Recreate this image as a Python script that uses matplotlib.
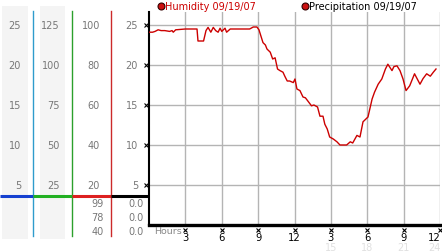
import matplotlib
matplotlib.use("Agg")
import matplotlib.pyplot as plt
from matplotlib.patches import Rectangle

# humidity trace, hours since midnight
hours = [0.0, 0.3, 0.5, 0.75, 1.0, 1.3, 1.7, 1.9, 2.0, 2.2, 3.0, 3.5, 3.96,
         4.04, 4.3, 4.5, 4.7, 4.87, 5.1, 5.3, 5.5, 5.7, 5.86, 6.0, 6.27, 6.4,
         6.7, 7.5, 8.3, 8.6, 8.9, 9.07, 9.4, 9.6, 9.73, 10.0, 10.2, 10.4, 10.6,
         10.8, 11.05, 11.2, 11.4, 11.6, 11.9, 12.04, 12.2, 12.45, 12.7, 12.9,
         13.1, 13.4, 13.6, 13.9, 14.1, 14.35, 14.5, 14.7, 14.9, 15.2, 15.5,
         15.75, 16.0, 16.3, 16.6, 16.8, 17.15, 17.4, 17.65, 18.06, 18.4, 18.6,
         18.9, 19.2, 19.5, 19.7, 20.04, 20.2, 20.45, 20.7, 20.95, 21.2, 21.5,
         21.9, 22.35, 22.6, 22.9, 23.2, 23.45, 23.67]
humidity = [24.1, 24.1, 24.2, 24.4, 24.3, 24.3, 24.2, 24.3, 24.1, 24.4, 24.5,
            24.5, 24.5, 23.0, 23.0, 23.0, 24.3, 24.7, 24.1, 24.7, 24.3, 24.1,
            24.6, 24.2, 24.6, 24.1, 24.5, 24.5, 24.5, 24.75, 24.75, 24.4, 22.8,
            22.5, 22.0, 21.6, 20.75, 20.9, 19.5, 19.3, 19.1, 18.6, 18.0, 18.0,
            17.8, 18.25, 17.0, 16.8, 16.0, 15.9, 15.5, 14.9, 15.0, 14.75, 13.6,
            13.6, 12.6, 12.0, 11.0, 10.75, 10.4, 10.0, 10.0, 10.0, 10.4, 10.25,
            11.2, 11.0, 12.9, 13.5, 15.75, 16.6, 17.6, 18.25, 19.5, 20.1, 19.3,
            19.8, 19.9, 19.3, 18.25, 16.8, 17.4, 18.9, 17.6, 18.3, 18.9, 18.6,
            19.1, 19.5]

y_ticks = [5, 10, 15, 20, 25]
scale_cols = [[5, 10, 15, 20, 25],
              [25, 50, 75, 100, 125],
              [20, 40, 60, 80, 100],
              [5, 10, 15, 20, 25]]
x_ticks = [3, 6, 9, 12, 15, 18, 21, 24]
x_labels = ['3', '6', '9', '12', '3', '6', '9', '12']
x_labels_24 = ['15', '18', '21', '24']
readings_c = ['99', '78', '40']
readings_d = ['0.0', '0.0', '0.0']

W, H = 442, 253
x0, x1 = 149, 440
y_top, y_bot = 13, 226
ppu = 8.0            # pixels per humidity unit
pph = (x1 - x0) / 24  # pixels per hour


def val(py):
    # pixel row -> value on the shared y scale
    return (y_bot - py) / ppu


fig = plt.figure(figsize=(W / 100, H / 100), dpi=100)
fig.patch.set_facecolor('white')

ymax = val(y_top)
ax = fig.add_axes([x0 / W, 1 - y_bot / H, (x1 - x0) / W, (y_bot - y_top) / H])
ax.set_xlim(0, 24)
ax.set_ylim(0, ymax)
ax.set_facecolor('white')

# grid
for h in x_ticks:
    ax.axvline(h, color='#b4b4b4', lw=1.0, zorder=1)
for v in y_ticks:
    ax.axhline(v, color='#b4b4b4', lw=1.0, zorder=1)

ax.plot(hours, humidity, color='#cc0000', lw=1.0, zorder=3)

for s in ['top', 'right']:
    ax.spines[s].set_visible(False)
ax.spines['left'].set_linewidth(1.5)
ax.spines['bottom'].set_linewidth(2.4)
ax.spines['bottom'].set_bounds(0, 24.1)
ax.set_xticks([])
ax.set_yticks([])

# tick glyphs
ax.plot([-0.25] * len(y_ticks), y_ticks, 'x', color='black', ms=2.6,
        mew=0.8, clip_on=False, zorder=4)
ax.plot(x_ticks, [val(231)] * len(x_ticks), 'x', color='black', ms=2.6,
        mew=0.8, clip_on=False, zorder=4)


def tick_pos(h):
    # the last label sits flush against the right edge
    if h == x_ticks[-1]:
        return h + 0.05, 'right'
    return h, 'center'


for h, lab in zip(x_ticks, x_labels):
    xp, ha = tick_pos(h)
    ax.text(xp, val(238), lab, ha=ha, va='center', fontsize=7.2,
            color='black', clip_on=False)
for h, lab in zip(x_ticks[4:], x_labels_24):
    xp, ha = tick_pos(h)
    ax.text(xp, val(248), lab, ha=ha, va='center', fontsize=7,
            color='#e0e0e0', clip_on=False)
ax.text((154 - x0) / pph, val(232), 'Hours', ha='left', va='center',
        fontsize=6.8, color='#888888', clip_on=False)

# left scale panel
axl = fig.add_axes([0, 1 - y_bot / H, x0 / W, (y_bot - y_top) / H])
axl.set_xlim(0, x0)
axl.set_ylim(0, ymax)
axl.axis('off')

for xa, xb in [(2, 28), (40, 65)]:
    axl.add_patch(Rectangle((xa, val(240)), xb - xa, val(7) - val(240),
                            facecolor='#f4f4f4', edgecolor='none',
                            clip_on=False, zorder=0))

for xv, c in [(33.3, '#2f9ccc'), (72.3, '#2ca02c'), (111.3, '#cc2a2a')]:
    axl.plot([xv, xv], [val(12), val(237)], color=c, lw=1.0,
             clip_on=False, zorder=2)

yline = val(196.7)
for xa, xb, c in [(0, 33.3, '#1540d0'), (33.3, 72.3, '#22b022'),
                  (72.3, 111.3, '#dd2020'), (111.3, 149, 'black')]:
    axl.plot([xa, xb], [yline, yline], color=c, lw=2.2, solid_capstyle='butt',
             clip_on=False, zorder=3)

for xr, col in zip([21, 60, 100, 138], scale_cols):
    for v, lab in zip(y_ticks, col):
        axl.text(xr, v, str(lab), ha='right', va='center', fontsize=7,
                 color='#777777', clip_on=False)

for py, a, b in zip([204, 218, 232], readings_c, readings_d):
    axl.text(104, val(py), a, ha='right', va='center', fontsize=7,
             color='#777777', clip_on=False)
    axl.text(144, val(py), b, ha='right', va='center', fontsize=7,
             color='#777777', clip_on=False)

# legend
for xd, label, tc in [(161, 'Humidity 09/19/07', '#cc0000'),
                      (305, 'Precipitation 09/19/07', 'black')]:
    fig.lines.append(plt.Line2D([xd / W], [1 - 7 / H], marker='o', ms=5,
                                mfc='#cc1111', mec='#330000', mew=0.8,
                                transform=fig.transFigure))
    fig.text((xd + 4) / W, 1 - 7 / H, label, ha='left', va='center',
             fontsize=7, color=tc)

fig.savefig('out.png', dpi=100)
